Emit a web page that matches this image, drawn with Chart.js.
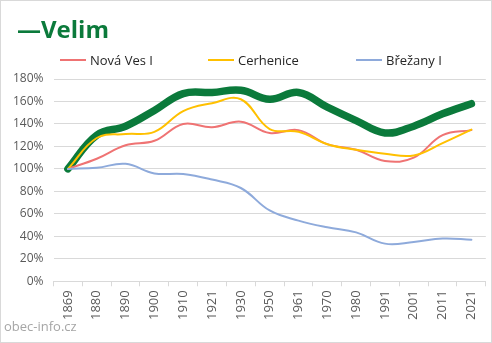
<!DOCTYPE html>
<html lang="cs">
<head>
<meta charset="UTF-8">
<title>Velim</title>
<script src="https://cdn.jsdelivr.net/npm/chart.js"></script>
<style>
  body { margin: 0; background: #fff; }
  #wrap { position: relative; width: 492px; height: 343px; border: 1px solid #d9d9d9; box-sizing: border-box; font-family: "Open Sans", sans-serif; }
  #box { position: absolute; left: 0; top: 0; width: 490px; height: 341px; }
  #title { position: absolute; left: 16px; top: 11px; font-size: 24px; font-weight: bold; color: #0b7a3b; }
  #legend { position: absolute; left: 59px; top: 50px; display: flex; font-size: 13px; color: #262626; }
  #legend div { width: 148px; display: flex; align-items: center; }
  #legend span { display: inline-block; width: 26px; height: 2px; margin-right: 4px; }
  #src { position: absolute; left: 3px; top: 316px; font-size: 13px; color: #a6a6a6; }
</style>
</head>
<body>
<div id="wrap">
  <div id="box"><canvas id="chart"></canvas></div>
  <div id="title">—Velim</div>
  <div id="legend"></div>
  <div id="src">obec-info.cz</div>
</div>
<script>
  const years = ['1869', '1880', '1890', '1900', '1910', '1921', '1930', '1950', '1961', '1970', '1980', '1991', '2001', '2011', '2021'];
  const velim = [100, 130, 138, 152, 167, 168, 170, 162, 168, 155, 143, 132, 138, 149, 158];
  const novaVes = [100, 109, 121, 125, 140, 137, 142, 132, 134.5, 122, 117, 107, 110, 130, 134.5];
  const cerhenice = [100, 127.5, 131, 133, 151.5, 158.5, 162, 135.5, 133, 122, 117, 113.5, 112, 123, 135];
  const brezany = [100, 101, 104.5, 96, 95.5, 90.5, 83, 63, 54, 48, 43.5, 33.5, 35, 38, 37];
  const yTicks = [0, 20, 40, 60, 80, 100, 120, 140, 160, 180];

  const series = [
    { label: 'Velim', data: velim, color: '#0b7a3b', width: 7.5, order: 4 },
    { label: 'Nová Ves I', data: novaVes, color: '#ef7373', width: 2, order: 3 },
    { label: 'Cerhenice', data: cerhenice, color: '#ffc000', width: 2, order: 2 },
    { label: 'Břežany I', data: brezany, color: '#8eaadb', width: 2, order: 1 }
  ];

  // legend (bez Velim, ten je v nadpisu)
  const legend = document.getElementById('legend');
  series.slice(1).forEach(s => {
    const item = document.createElement('div');
    item.innerHTML = '<span style="background:' + s.color + '"></span>' + s.label;
    legend.appendChild(item);
  });

  const ctx = document.getElementById('chart').getContext('2d');
  new Chart(ctx, {
    type: 'line',
    data: {
      labels: years,
      datasets: series.map(s => ({
        label: s.label,
        data: s.data,
        borderColor: s.color,
        backgroundColor: s.color,
        borderWidth: s.width,
        pointRadius: 0,
        tension: 0.4,
        order: s.order,
        borderCapStyle: 'round'
      }))
    },
    options: {
      responsive: true,
      maintainAspectRatio: false,
      animation: false,
      layout: { padding: { left: 2, right: 0, top: 78, bottom: 18 } },
      plugins: {
        legend: { display: false },
        title: { display: false },
        tooltip: { enabled: false }
      },
      scales: {
        x: {
          offset: true,
          grid: { offset: true, drawOnChartArea: false, tickLength: 5, color: '#d9d9d9' },
          border: { color: '#d9d9d9' },
          ticks: { minRotation: 90, maxRotation: 90, color: '#595959', font: { family: 'Open Sans', size: 13 }, padding: 4 }
        },
        y: {
          min: 0,
          max: 180,
          afterBuildTicks: axis => { axis.ticks = yTicks.map(v => ({ value: v })); },
          grid: { color: '#d9d9d9', drawTicks: false },
          border: { display: false },
          ticks: { color: '#595959', font: { family: 'Open Sans', size: 12 }, padding: 10, callback: v => v + '%' }
        }
      }
    }
  });
</script>
</body>
</html>
